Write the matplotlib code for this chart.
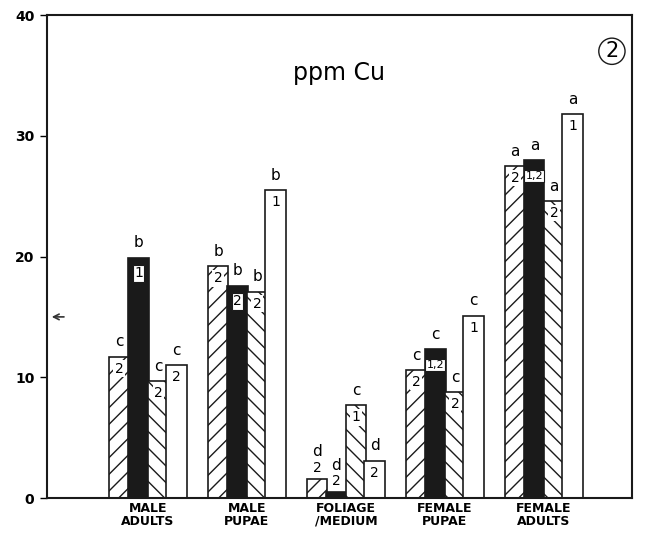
import numpy as np
import matplotlib
matplotlib.use('Agg')
import matplotlib.pyplot as plt

# groups along the x axis
categories = ['MALE\nADULTS', 'MALE\nPUPAE', 'FOLIAGE\n/MEDIUM', 'FEMALE\nPUPAE', 'FEMALE\nADULTS']

# ppm Cu, four bars per group
vals_fwd = [11.7, 19.2, 1.6, 10.6, 27.5]     # // hatched
vals_black = [19.9, 17.6, 0.5, 12.3, 28.0]   # solid black
vals_back = [9.7, 17.1, 7.7, 8.8, 24.6]      # \\ hatched
vals_white = [11.0, 25.5, 3.1, 15.1, 31.8]   # open

# significance letters above bars
let_fwd = ['c', 'b', 'd', 'c', 'a']
let_black = ['b', 'b', 'd', 'c', 'a']
let_back = ['c', 'b', 'c', 'c', 'a']
let_white = ['c', 'b', 'd', 'c', 'a']

# numbers written at the top of each bar
num_fwd = ['2', '2', '2', '2', '2']
num_black = ['1', '2', '2', '1,2', '1,2']
num_back = ['2', '2', '1', '2', '2']
num_white = ['2', '1', '2', '1', '1']

yticks = [0, 10, 20, 30, 40]

fig = plt.figure(figsize=(6.48, 5.37), dpi=100)
ax = fig.add_axes([0.0725, 0.0726, 0.9025, 0.8994])

x = np.arange(len(categories))
w = 0.205
offsets = [-0.29, -0.095, 0.105, 0.29]
series = [
    (vals_fwd, let_fwd, num_fwd, dict(facecolor='white', hatch='//')),
    (vals_black, let_black, num_black, dict(facecolor='#1a1a1a')),
    (vals_back, let_back, num_back, dict(facecolor='white', hatch='\\\\')),
    (vals_white, let_white, num_white, dict(facecolor='white')),
]

plt.rcParams['hatch.linewidth'] = 1.0
for k, (vals, lets, nums, style) in enumerate(series):
    xs = x + offsets[k]
    ax.bar(xs, vals, width=w, edgecolor='#1a1a1a', linewidth=1.2, zorder=2, **style)
    for xi, v, l, n in zip(xs, vals, lets, nums):
        fs = 8 if ',' in n else 10
        if v > 3:
            dy = 1.3 if k == 1 else 1.0
            ax.text(xi, v - dy, n, ha='center', va='center', fontsize=fs, zorder=4,
                    bbox=dict(boxstyle='square,pad=0.1', facecolor='white',
                              edgecolor='#1a1a1a' if k == 1 else 'none', linewidth=0.8))
            ax.text(xi, v + 0.6, l, ha='center', va='bottom', fontsize=11, zorder=4)
        else:
            ax.text(xi, v + 0.3, n, ha='center', va='bottom', fontsize=fs, zorder=4,
                    bbox=dict(boxstyle='square,pad=0.1', facecolor='white', edgecolor='none'))
            ax.text(xi, v + 1.6, l, ha='center', va='bottom', fontsize=11, zorder=4)

ax.set_xlim(-1.02, 4.89)
ax.set_ylim(0, 40)
ax.set_yticks(yticks)
ax.set_yticklabels([str(t) for t in yticks], fontsize=10, fontweight='bold')
ax.tick_params(axis='y', direction='out', length=5, width=1, pad=4)
ax.set_xticks(x)
ax.set_xticklabels(categories, fontsize=9, fontweight='bold', linespacing=0.95)
ax.tick_params(axis='x', length=0, pad=3)
for s in ax.spines.values():
    s.set_linewidth(1.5)
    s.set_color('#1a1a1a')

ax.text(0.5, 0.88, 'ppm Cu', transform=ax.transAxes, fontsize=17, ha='center', va='center')
ax.text(0.966, 0.925, '2', transform=ax.transAxes, fontsize=15, ha='center', va='center',
        bbox=dict(boxstyle='circle,pad=0.15', facecolor='none', edgecolor='#1a1a1a', linewidth=1))
ax.annotate('', xy=(-1.0, 15), xytext=(-0.82, 15),
            arrowprops=dict(arrowstyle='->', color='#333333', lw=1.2))

fig.savefig('out.png', dpi=100)
